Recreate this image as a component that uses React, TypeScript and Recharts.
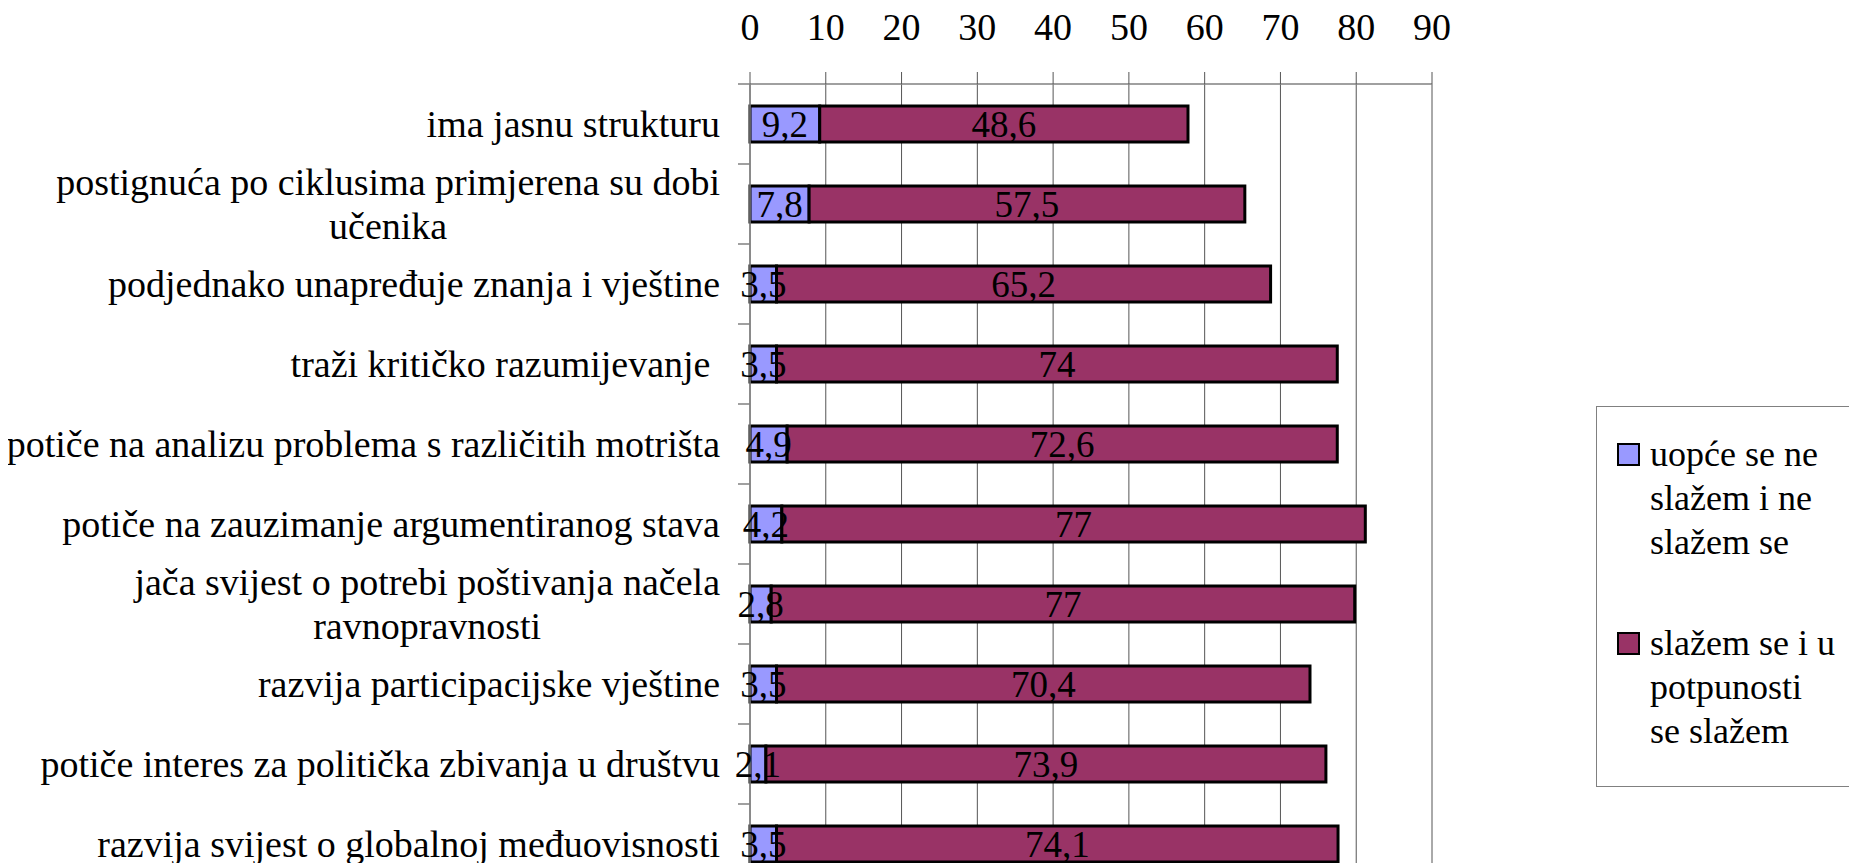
import React from "react";
import { BarChart, Bar, XAxis, YAxis, CartesianGrid, LabelList } from "recharts";

const FONT = "Liberation Serif";

// category labels, "\n" marks a line break
const categories = [
  "ima jasnu strukturu",
  "postignuća po ciklusima primjerena su dobi\nučenika",
  "podjednako unapređuje znanja i vještine",
  "traži kritičko razumijevanje\u00a0",
  "potiče na analizu problema s različitih motrišta",
  "potiče na zauzimanje argumentiranog stava",
  "jača svijest o potrebi poštivanja načela\nravnopravnosti",
  "razvija participacijske vještine",
  "potiče interes za politička zbivanja u društvu",
  "razvija svijest o globalnoj međuovisnosti",
];

const disagree = [9.2, 7.8, 3.5, 3.5, 4.9, 4.2, 2.8, 3.5, 2.1, 3.5];
const agree = [48.6, 57.5, 65.2, 74, 72.6, 77, 77, 70.4, 73.9, 74.1];

const xTicks = [0, 10, 20, 30, 40, 50, 60, 70, 80, 90];

const seriesNames = [
  "uopće se ne\nslažem i ne\nslažem se",
  "slažem se i u\npotpunosti\nse slažem",
];
const seriesColors = ["#9999FF", "#993366"];

const data = categories.map((name, i) => ({
  name,
  disagree: disagree[i],
  agree: agree[i],
}));

const fmt = (v: any) => String(v).replace(".", ",");

let ctx: CanvasRenderingContext2D | null = null;
function textWidth(s: string, size: number) {
  if (!ctx) ctx = document.createElement("canvas").getContext("2d");
  if (!ctx) return s.length * size * 0.45;
  ctx.font = `${size}px "Liberation Serif"`;
  return ctx.measureText(s).width;
}

function CategoryTick(props: any) {
  const { x, y, payload } = props;
  const lines = String(payload.value).split("\n");
  const size = 38;
  const step = 44;
  const right = x - 30;
  const w = Math.max(...lines.map((l) => textWidth(l, size)));
  const cx = right - w / 2;
  const first = -((lines.length - 1) * step) / 2;
  return (
    <g>
      <line x1={x - 12} x2={x} y1={y - 40} y2={y - 40} stroke="#808080" strokeWidth={1.5} />
      <text fontSize={size} fill="#000" fontFamily={FONT} textAnchor="middle">
        {lines.map((l, i) => (
          <tspan key={i} x={cx} y={y + first + i * step} dy="0.35em">
            {l}
          </tspan>
        ))}
      </text>
    </g>
  );
}

function LegendBox() {
  const tops = [25, 214];
  return (
    <div
      style={{
        position: "absolute",
        left: 1588,
        top: 406,
        width: 300,
        height: 381,
        border: "1.5px solid #808080",
        background: "#fff",
        boxSizing: "border-box",
      }}
    >
      {seriesNames.map((n, i) => (
        <React.Fragment key={i}>
          <div
            style={{
              position: "absolute",
              left: 20,
              top: tops[i] + 11,
              width: 23,
              height: 23,
              background: seriesColors[i],
              border: "2.5px solid #000",
              boxSizing: "border-box",
            }}
          />
          <div
            style={{
              position: "absolute",
              left: 53,
              top: tops[i],
              fontSize: 36,
              lineHeight: "44px",
              whiteSpace: "pre",
              color: "#000",
              fontFamily: FONT,
            }}
          >
            {n}
          </div>
        </React.Fragment>
      ))}
    </div>
  );
}

export default function App() {
  return (
    <div
      style={{
        position: "absolute",
        left: 8,
        top: 0,
        width: 1841,
        height: 863,
        overflow: "hidden",
        fontFamily: FONT,
        background: "#fff",
      }}
    >
      <BarChart
        width={1841}
        height={900}
        data={data}
        layout="vertical"
        margin={{ top: 0, right: 417, bottom: 16, left: 0 }}
      >
        <CartesianGrid horizontal={false} stroke="#555" strokeWidth={1} />
        <XAxis
          type="number"
          orientation="top"
          domain={[0, 90]}
          ticks={xTicks}
          interval={0}
          height={84}
          tickSize={12}
          tickMargin={32}
          axisLine={{ stroke: "#808080", strokeWidth: 1.5 }}
          tickLine={{ stroke: "#555" }}
          tick={{ fill: "#000", fontSize: 38, fontFamily: FONT }}
        />
        <YAxis
          type="category"
          dataKey="name"
          width={742}
          tickSize={0}
          tickMargin={0}
          interval={0}
          axisLine={{ stroke: "#808080", strokeWidth: 1.5 }}
          tick={<CategoryTick />}
        />
        <Bar
          dataKey="disagree"
          stackId="a"
          fill={seriesColors[0]}
          stroke="#000"
          strokeWidth={3}
          barSize={36}
          isAnimationActive={false}
        >
          <LabelList
            dataKey="disagree"
            position="center"
            formatter={fmt}
            fill="#000"
            stroke="none"
            fontSize={37}
            fontFamily={FONT}
          />
        </Bar>
        <Bar
          dataKey="agree"
          stackId="a"
          fill={seriesColors[1]}
          stroke="#000"
          strokeWidth={3}
          barSize={36}
          isAnimationActive={false}
        >
          <LabelList
            dataKey="agree"
            position="center"
            formatter={fmt}
            fill="#000"
            stroke="none"
            fontSize={37}
            fontFamily={FONT}
          />
        </Bar>
      </BarChart>
      <LegendBox />
    </div>
  );
}
